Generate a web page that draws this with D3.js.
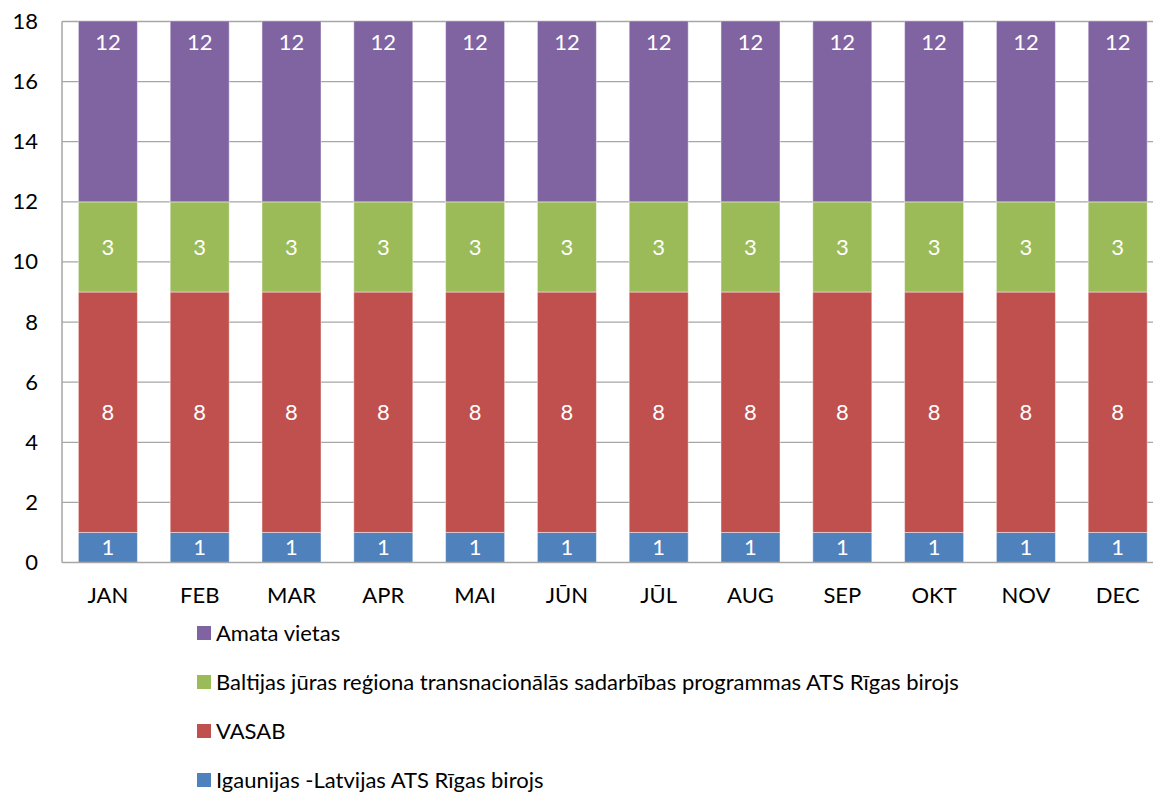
<!DOCTYPE html>
<html>
<head>
<meta charset="utf-8">
<script src="https://cdn.jsdelivr.net/npm/d3@7"></script>
<style>
  body { margin: 0; background: #fff; }
  svg { display: block; font-family: Lato, "Noto Sans", sans-serif; }
</style>
</head>
<body>
<div id="chart"></div>
<script>
const months = ['JAN', 'FEB', 'MAR', 'APR', 'MAI', 'JŪN', 'JŪL', 'AUG', 'SEP', 'OKT', 'NOV', 'DEC']
const igaunija = [1, 1, 1, 1, 1, 1, 1, 1, 1, 1, 1, 1]
const vasab = [8, 8, 8, 8, 8, 8, 8, 8, 8, 8, 8, 8]
const baltija = [3, 3, 3, 3, 3, 3, 3, 3, 3, 3, 3, 3]
const amata = [12, 12, 12, 12, 12, 12, 12, 12, 12, 12, 12, 12]
const seriesNames = [
  'Igaunijas -Latvijas ATS Rīgas birojs',
  'VASAB',
  'Baltijas jūras reģiona transnacionālās sadarbības programmas ATS Rīgas birojs',
  'Amata vietas'
]
const colors = ['#4F81BD', '#C0504D', '#9BBB59', '#8064A2']
const yTicks = [0, 2, 4, 6, 8, 10, 12, 14, 16, 18]

const width = 1153
const height = 792
const margin = { left: 62, top: 21.5, bottom: 229.5 }
const plotW = 12 * 91.8
const plotH = height - margin.top - margin.bottom
const fontSize = 22

const table = months.map((m, i) => ({
  month: m, s0: igaunija[i], s1: vasab[i], s2: baltija[i], s3: amata[i]
}))
const stack = d3.stack().keys(['s0', 's1', 's2', 's3'])(table)

const x = d3.scaleBand().domain(months).range([0, plotW]).paddingInner(0.357).paddingOuter(0.1785)
const y = d3.scaleLinear().domain([0, 18]).range([plotH, 0])

const svg = d3.select('#chart').append('svg')
  .attr('width', width)
  .attr('height', height)

svg.append('defs').append('clipPath').attr('id', 'plotclip')
  .append('rect').attr('x', 0).attr('y', 0).attr('width', plotW).attr('height', plotH)

const g = svg.append('g').attr('transform', `translate(${margin.left},${margin.top})`)

// gridlines
g.selectAll('.grid')
  .data(yTicks.filter(d => d > 0))
  .enter().append('line')
  .attr('x1', 0).attr('x2', plotW)
  .attr('y1', d => y(d)).attr('y2', d => y(d))
  .attr('stroke', '#a6a6a6').attr('stroke-width', 1.3)

const bars = g.append('g').attr('clip-path', 'url(#plotclip)')
stack.forEach((layer, li) => {
  bars.selectAll('.s' + li)
    .data(layer)
    .enter().append('rect')
    .attr('x', (d, i) => x(months[i]))
    .attr('width', x.bandwidth())
    .attr('y', d => y(d[1]))
    .attr('height', d => y(d[0]) - y(d[1]))
    .attr('fill', colors[li])
    .attr('stroke', 'rgba(255,255,255,0.45)')
    .attr('stroke-width', 1)
})

// value labels (the clipped top segment gets its label just inside the plot top)
stack.forEach((layer, li) => {
  g.selectAll('.lbl' + li)
    .data(layer)
    .enter().append('text')
    .attr('x', (d, i) => x(months[i]) + x.bandwidth() / 2)
    .attr('y', d => Math.max(y((d[0] + d[1]) / 2), y(18) + 21))
    .attr('dy', '0.35em')
    .attr('text-anchor', 'middle')
    .attr('fill', '#fff')
    .attr('font-size', fontSize)
    .text(d => d[1] - d[0])
})

// axes
const yAxis = g.append('g').call(d3.axisLeft(y).tickValues(yTicks).tickSize(0).tickPadding(24))
yAxis.select('.domain').remove()
yAxis.selectAll('text').attr('font-size', fontSize).attr('fill', '#000').attr('font-family', 'Lato, "Noto Sans", sans-serif')

g.append('line').attr('x1', 0).attr('x2', 0).attr('y1', 0).attr('y2', plotH)
  .attr('stroke', '#a6a6a6').attr('stroke-width', 1.5)
g.append('line').attr('x1', 0).attr('x2', plotW).attr('y1', plotH).attr('y2', plotH)
  .attr('stroke', '#a6a6a6').attr('stroke-width', 1.5)

const xAxis = g.append('g').attr('transform', `translate(0,${plotH})`)
  .call(d3.axisBottom(x).tickSize(0).tickPadding(25))
xAxis.select('.domain').remove()
xAxis.selectAll('text').attr('font-size', fontSize).attr('fill', '#000').attr('font-family', 'Lato, "Noto Sans", sans-serif')

// legend
const legendOrder = [3, 2, 1, 0]
const legend = svg.append('g').attr('transform', 'translate(197,633)')
legendOrder.forEach((si, row) => {
  const item = legend.append('g').attr('transform', `translate(0,${row * 49})`)
  item.append('rect').attr('x', 0).attr('y', -7).attr('width', 14).attr('height', 14).attr('fill', colors[si])
  item.append('text').attr('x', 19).attr('y', 0).attr('dy', '0.35em')
    .attr('font-size', fontSize).attr('fill', '#000').text(seriesNames[si])
})
</script>
</body>
</html>
